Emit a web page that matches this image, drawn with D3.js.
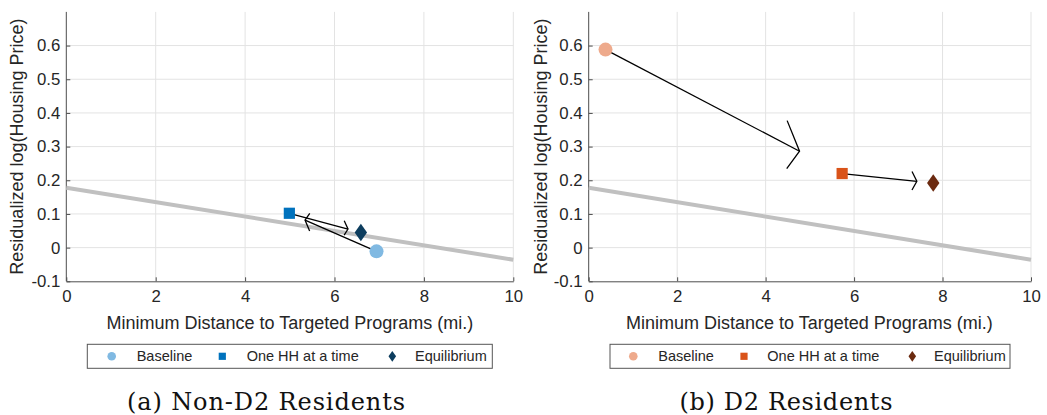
<!DOCTYPE html>
<html><head><meta charset="utf-8">
<script src="https://cdn.jsdelivr.net/npm/d3@7"></script>
<style>
html,body{margin:0;padding:0;background:#fff;}
svg{display:block;}
text{font-family:"Liberation Sans",Arial,sans-serif;fill:#262626;}
.cap{font-family:"DejaVu Serif","Liberation Serif",serif;fill:#111;}
</style></head>
<body>
<svg id="c" width="1047" height="415"></svg>
<script>
// ---- data ----
const xTicks = [0, 2, 4, 6, 8, 10];
const yTicks = [-0.1, 0, 0.1, 0.2, 0.3, 0.4, 0.5, 0.6];
const yTickLabels = ["-0.1", "0", "0.1", "0.2", "0.3", "0.4", "0.5", "0.6"];
const xDomain = [0, 10];
const yDomain = [-0.1, 0.7];
const seriesNames = ["Baseline", "One HH at a time", "Equilibrium"];
const nonD2X = [6.94, 4.99, 6.59];
const nonD2Y = [-0.011, 0.102, 0.045];
const d2X = [0.38, 5.73, 7.79];
const d2Y = [0.588, 0.220, 0.192];
const fitX = [0, 10];
const fitY = [0.178, -0.036];
const arrowFrom = [0, 1];
const arrowTo = [1, 2];
const quiverScale = 0.82;
const captions = ["(a) Non-D2 Residents", "(b) D2 Residents"];
const xLabel = "Minimum Distance to Targeted Programs (mi.)";
const yLabel = "Residualized log(Housing Price)";

// ---- styles / layout ----
const panels = [
  {xs: nonD2X, ys: nonD2Y, x0: 66.3, x1: 513.3, colors: ["#80b9e2", "#0072bd", "#0d3d5e"],
   legX: 87.3, legW: 405, legItems: [111.7, 222.3, 392.3], legText: [136.7, 246.7, 415], capX: 266, capW: 278, ylabX: 17},
  {xs: d2X, ys: d2Y, x0: 588.7, x1: 1031, colors: ["#eeaa8c", "#d95319", "#6b2a10"],
   legX: 610, legW: 400, legItems: [633.3, 744, 912.3], legText: [658.3, 767.3, 934], capX: 786, capW: 213, ylabX: 540.7}
];
const yTop = 11.9, yBot = 281.3;
const svg = d3.select("#c");
const headA = 0.065, headB = 0.25;

function marker(type, s) {
  if (type === 0) return `M${s},0A${s},${s} 0 1,1 ${-s},0A${s},${s} 0 1,1 ${s},0Z`;
  if (type === 1) return `M${-s},${-s}H${s}V${s}H${-s}Z`;
  return `M0,${-s * 1.42}L${s},0L0,${s * 1.42}L${-s},0Z`;
}

panels.forEach((p, pi) => {
  const x = d3.scaleLinear().domain(xDomain).range([p.x0, p.x1]);
  const y = d3.scaleLinear().domain(yDomain).range([yBot, yTop]);
  const g = svg.append("g");

  // grid
  g.selectAll(".gx").data(xTicks.filter(t => t > 0)).join("line")
    .attr("x1", d => x(d)).attr("x2", d => x(d)).attr("y1", yTop).attr("y2", yBot)
    .attr("stroke", "#e3e3e3").attr("stroke-width", 1);
  g.selectAll(".gy").data(yTicks.filter(t => t > -0.1)).join("line")
    .attr("x1", p.x0).attr("x2", p.x1).attr("y1", d => y(d)).attr("y2", d => y(d))
    .attr("stroke", "#e3e3e3").attr("stroke-width", 1);

  // axes
  const xa = g.append("g").attr("transform", `translate(0,${yBot})`)
    .call(d3.axisBottom(x).tickValues(xTicks).tickSizeInner(-4).tickSizeOuter(0).tickPadding(9).tickFormat(d3.format("d")));
  const ya = g.append("g").attr("transform", `translate(${p.x0},0)`)
    .call(d3.axisLeft(y).tickValues(yTicks).tickSizeInner(-4).tickSizeOuter(0).tickPadding(6)
      .tickFormat((d, i) => yTickLabels[i]));
  [xa, ya].forEach(a => {
    a.select(".domain").attr("stroke", "#4d4d4d").attr("stroke-width", 1);
    a.selectAll(".tick line").attr("stroke", "#4d4d4d");
    a.selectAll("text").style("font-size", "16.8px").attr("fill", "#262626");
  });
  ya.select(".domain").attr("d", `M0,${yTop}V${yBot}`);

  // labels
  g.append("text").attr("x", (p.x0 + p.x1) / 2 + (pi ? -0.5 : 0)).attr("y", 322.5)
    .attr("text-anchor", "middle").attr("dominant-baseline", "central")
    .style("font-size", "18px").text(xLabel);
  g.append("text").attr("transform", `translate(${p.ylabX},${(yTop + yBot) / 2}) rotate(-90)`)
    .attr("text-anchor", "middle").attr("dominant-baseline", "central")
    .style("font-size", "18px").text(yLabel);

  // fit line
  g.append("line").attr("x1", x(fitX[0])).attr("y1", y(fitY[0])).attr("x2", x(fitX[1])).attr("y2", y(fitY[1]))
    .attr("stroke", "#c0c0c0").attr("stroke-width", 4);

  // quiver arrows (head computed in data units)
  arrowFrom.forEach((fi, k) => {
    const ti = arrowTo[k];
    const sx = p.xs[fi], sy = p.ys[fi];
    const u = (p.xs[ti] - sx) * quiverScale, v = (p.ys[ti] - sy) * quiverScale;
    const tx = sx + u, ty = sy + v;
    const h1x = tx - headA * (u + headB * v), h1y = ty - headA * (v - headB * u);
    const h2x = tx - headA * (u - headB * v), h2y = ty - headA * (v + headB * u);
    g.append("line").attr("x1", x(sx)).attr("y1", y(sy)).attr("x2", x(tx)).attr("y2", y(ty))
      .attr("stroke", "#000").attr("stroke-width", 1.3);
    g.append("path").attr("d", `M${x(h1x)},${y(h1y)}L${x(tx)},${y(ty)}L${x(h2x)},${y(h2y)}`)
      .attr("fill", "none").attr("stroke", "#000").attr("stroke-width", 1.3);
  });

  // markers
  const symSizes = [7, 5.6, 6.2];
  p.xs.forEach((xv, i) => {
    g.append("path").attr("d", marker(i, symSizes[i]))
      .attr("transform", `translate(${x(xv)},${y(p.ys[i])})`).attr("fill", p.colors[i]);
  });

  // legend
  const ly0 = 344.3, ly1 = 368.3, lyc = (ly0 + ly1) / 2;
  g.append("rect").attr("x", p.legX).attr("y", ly0).attr("width", p.legW).attr("height", ly1 - ly0)
    .attr("fill", "#fff").attr("stroke", "#555").attr("stroke-width", 1);
  const legSizes = [4.3, 3.6, 3.8];
  seriesNames.forEach((n, i) => {
    g.append("path").attr("d", marker(i, legSizes[i]))
      .attr("transform", `translate(${p.legItems[i]},${lyc})`).attr("fill", p.colors[i]);
    g.append("text").attr("x", p.legText[i]).attr("y", lyc).attr("dominant-baseline", "central")
      .style("font-size", "14.5px").text(n);
  });

  // caption
  g.append("text").attr("class", "cap").attr("x", p.capX).attr("y", 402)
    .attr("text-anchor", "middle").attr("dominant-baseline", "central")
    .attr("textLength", p.capW).attr("lengthAdjust", "spacing")
    .style("font-size", "24px").text(captions[pi]);
});
</script>
</body></html>
